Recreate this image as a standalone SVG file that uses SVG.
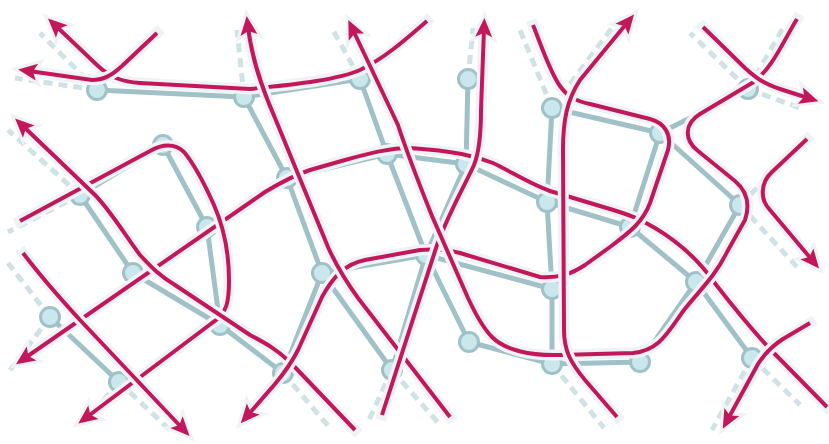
<svg xmlns="http://www.w3.org/2000/svg" width="829" height="444" viewBox="0 0 829 444">
<defs>
<style>
.e{stroke:#9fc1c7;stroke-width:5;fill:none;stroke-linecap:round}
.d{stroke:#cfe3e7;stroke-width:5;fill:none;stroke-dasharray:9 6}
.n circle{fill:#c9e7ec;stroke:#9fc1c7;stroke-width:3}
.h{stroke:#f0f3f5;stroke-width:11;fill:none;stroke-linejoin:round;stroke-linecap:square}
.m{stroke:#c2185b;stroke-width:4;fill:none;stroke-linejoin:round}
.h.a{marker-end:url(#ahh)}
.m.a{marker-end:url(#ah)}
</style>
<marker id="ah" viewBox="-16 -16 34 32" markerWidth="34" markerHeight="32" refX="0" refY="0" orient="auto" markerUnits="userSpaceOnUse" overflow="visible"><path d="M11,0 L-8,-8.5 L-4,0 L-8,8.5 Z" fill="#c2185b"/></marker>
<marker id="ahh" viewBox="-16 -16 34 32" markerWidth="34" markerHeight="32" refX="0" refY="0" orient="auto" markerUnits="userSpaceOnUse" overflow="visible"><path d="M11,0 L-8,-8.5 L-4,0 L-8,8.5 Z" fill="#f0f3f5" stroke="#f0f3f5" stroke-width="6" stroke-linejoin="miter"/></marker>
</defs>
<rect width="829" height="444" fill="#ffffff"/>
<g id="connectors">
<g id="boundary">
<path class="d" d="M97,90 L15,78"/>
<path class="d" d="M97,90 L40,33"/>
<path class="d" d="M97,90 L155,33"/>
<path class="d" d="M244,97 L237,30"/>
<path class="d" d="M360,79 L333,30"/>
<path class="d" d="M360,79 L425,22"/>
<path class="d" d="M468,79 L473,28"/>
<path class="d" d="M552,108 L520,30"/>
<path class="d" d="M552,108 L612,28"/>
<path class="d" d="M748,89 L690,33"/>
<path class="d" d="M748,89 L785,25"/>
<path class="d" d="M748,89 L800,108"/>
<path class="d" d="M740,205 L800,270"/>
<path class="d" d="M740,205 L805,140"/>
<path class="d" d="M80,195 L8,130"/>
<path class="d" d="M80,195 L8,232"/>
<path class="d" d="M50,317 L8,263"/>
<path class="d" d="M50,317 L10,370"/>
<path class="d" d="M119,382 L170,430"/>
<path class="d" d="M119,382 L80,428"/>
<path class="d" d="M283,373 L330,428"/>
<path class="d" d="M283,373 L240,425"/>
<path class="d" d="M392,370 L368,422"/>
<path class="d" d="M392,370 L440,425"/>
<path class="d" d="M552,364 L604,428"/>
<path class="d" d="M752,358 L712,430"/>
<path class="d" d="M752,358 L800,405"/>
<path class="d" d="M752,358 L810,322"/>
</g>
<g id="edges">
<path class="e" d="M97,90 L244,97"/>
<path class="e" d="M244,97 L360,79"/>
<path class="e" d="M244,97 L287,178"/>
<path class="e" d="M360,79 L387,154"/>
<path class="e" d="M468,79 L466,164"/>
<path class="e" d="M552,108 L547,202"/>
<path class="e" d="M552,108 L660,133"/>
<path class="e" d="M660,133 L748,89"/>
<path class="e" d="M660,133 L740,205"/>
<path class="e" d="M660,133 L630,227"/>
<path class="e" d="M163,145 L80,195"/>
<path class="e" d="M163,145 L207,227"/>
<path class="e" d="M80,195 L133,273"/>
<path class="e" d="M287,178 L387,154"/>
<path class="e" d="M287,178 L322,273"/>
<path class="e" d="M387,154 L466,164"/>
<path class="e" d="M387,154 L426,255"/>
<path class="e" d="M466,164 L547,202"/>
<path class="e" d="M466,164 L426,255"/>
<path class="e" d="M547,202 L630,227"/>
<path class="e" d="M547,202 L552,289"/>
<path class="e" d="M207,227 L220,325"/>
<path class="e" d="M133,273 L220,325"/>
<path class="e" d="M220,325 L283,373"/>
<path class="e" d="M322,273 L426,255"/>
<path class="e" d="M322,273 L283,373"/>
<path class="e" d="M322,273 L392,370"/>
<path class="e" d="M426,255 L392,370"/>
<path class="e" d="M426,255 L469,342"/>
<path class="e" d="M426,255 L552,289"/>
<path class="e" d="M552,289 L552,364"/>
<path class="e" d="M630,227 L696,282"/>
<path class="e" d="M740,205 L696,282"/>
<path class="e" d="M696,282 L752,358"/>
<path class="e" d="M696,282 L640,362"/>
<path class="e" d="M469,342 L552,364"/>
<path class="e" d="M552,364 L640,362"/>
<path class="e" d="M50,317 L119,382"/>
</g>
</g>
<g id="nodes" class="n">
<g id="n1"><circle cx="97" cy="90" r="9.5"/></g>
<g id="n2"><circle cx="244" cy="97" r="9.5"/></g>
<g id="n3"><circle cx="360" cy="79" r="9.5"/></g>
<g id="n4"><circle cx="468" cy="79" r="9.5"/></g>
<g id="n5"><circle cx="552" cy="108" r="9.5"/></g>
<g id="n6"><circle cx="660" cy="133" r="9.5"/></g>
<g id="n7"><circle cx="748" cy="89" r="9.5"/></g>
<g id="n8"><circle cx="163" cy="145" r="9.5"/></g>
<g id="n9"><circle cx="80" cy="195" r="9.5"/></g>
<g id="n10"><circle cx="287" cy="178" r="9.5"/></g>
<g id="n11"><circle cx="387" cy="154" r="9.5"/></g>
<g id="n12"><circle cx="466" cy="164" r="9.5"/></g>
<g id="n13"><circle cx="547" cy="202" r="9.5"/></g>
<g id="n14"><circle cx="207" cy="227" r="9.5"/></g>
<g id="n15"><circle cx="630" cy="227" r="9.5"/></g>
<g id="n16"><circle cx="740" cy="205" r="9.5"/></g>
<g id="n17"><circle cx="133" cy="273" r="9.5"/></g>
<g id="n18"><circle cx="322" cy="273" r="9.5"/></g>
<g id="n19"><circle cx="426" cy="255" r="9.5"/></g>
<g id="n20"><circle cx="552" cy="289" r="9.5"/></g>
<g id="n21"><circle cx="696" cy="282" r="9.5"/></g>
<g id="n22"><circle cx="50" cy="317" r="9.5"/></g>
<g id="n23"><circle cx="220" cy="325" r="9.5"/></g>
<g id="n24"><circle cx="469" cy="342" r="9.5"/></g>
<g id="n25"><circle cx="552" cy="364" r="9.5"/></g>
<g id="n26"><circle cx="640" cy="362" r="9.5"/></g>
<g id="n27"><circle cx="752" cy="358" r="9.5"/></g>
<g id="n28"><circle cx="119" cy="382" r="9.5"/></g>
<g id="n29"><circle cx="283" cy="373" r="9.5"/></g>
<g id="n30"><circle cx="392" cy="370" r="9.5"/></g>
</g>
<g id="strands">
<g id="s-m1"><path class="h a" d="M427,21 C405,40 385,58 360,70 C340,79 300,84 250,89 L140,83 C122,82 110,77 98,66 L56,26"/><path class="m a" d="M427,21 C405,40 385,58 360,70 C340,79 300,84 250,89 L140,83 C122,82 110,77 98,66 L56,26"/></g>
<g id="s-m2"><path class="h a" d="M157,33 L122,66 C112,75 104,80 92,80 L29,71"/><path class="m a" d="M157,33 L122,66 C112,75 104,80 92,80 L29,71"/></g>
<g id="s-d"><path class="h a" d="M827,407 L770,349 C745,322 728,300 714,282 C700,262 680,243 655,228 C640,219 630,215 610,209 L550,191 C530,184 510,171 493,163 C475,156 455,151 410,148 C390,148 370,153 345,160 L310,170 C295,175 280,183 265,192 L25,358"/><path class="m a" d="M827,407 L770,349 C745,322 728,300 714,282 C700,262 680,243 655,228 C640,219 630,215 610,209 L550,191 C530,184 510,171 493,163 C475,156 455,151 410,148 C390,148 370,153 345,160 L310,170 C295,175 280,183 265,192 L25,358"/></g>
<g id="s-e"><path class="h a" d="M20,221 L150,151 C162,144 175,143 184,152 C195,165 205,185 214,205 C224,228 229,250 229,280 C229,300 228,313 212,323 L87,417"/><path class="m a" d="M20,221 L150,151 C162,144 175,143 184,152 C195,165 205,185 214,205 C224,228 229,250 229,280 C229,300 228,313 212,323 L87,417"/></g>
<g id="s-f"><path class="h a" d="M355,430 L290,362 C275,348 265,343 250,335 L175,285 C160,276 152,268 140,255 C125,235 110,210 95,195 L23,126"/><path class="m a" d="M355,430 L290,362 C275,348 265,343 250,335 L175,285 C160,276 152,268 140,255 C125,235 110,210 95,195 L23,126"/></g>
<g id="s-g"><path class="h a" d="M23,253 C45,282 60,298 80,320 L182,428"/><path class="m a" d="M23,253 C45,282 60,298 80,320 L182,428"/></g>
<g id="s-i"><path class="h a" d="M533,25 C543,50 550,72 560,86 C567,96 575,101 590,104 L650,119 C665,123 672,135 668,150 L650,203 C643,222 630,232 610,247 L585,265 C570,275 558,278 540,277 L460,253 C445,249 430,249 420,250 L365,260 C345,264 333,277 322,297 L298,350 C292,362 285,372 275,384 L248,415"/><path class="m a" d="M533,25 C543,50 550,72 560,86 C567,96 575,101 590,104 L650,119 C665,123 672,135 668,150 L650,203 C643,222 630,232 610,247 L585,265 C570,275 558,278 540,277 L460,253 C445,249 430,249 420,250 L365,260 C345,264 333,277 322,297 L298,350 C292,362 285,372 275,384 L248,415"/></g>
<g id="s-a"><path class="h a" d="M450,417 L358,298 C345,280 336,265 328,247 L275,118 C262,88 252,60 248,27"/><path class="m a" d="M450,417 L358,298 C345,280 336,265 328,247 L275,118 C262,88 252,60 248,27"/></g>
<g id="s-k"><path class="h a" d="M382,415 L437,245 C450,210 465,185 474,165 C480,150 481,130 481,110 L484,29"/><path class="m a" d="M382,415 L437,245 C450,210 465,185 474,165 C480,150 481,130 481,110 L484,29"/></g>
<g id="s-b"><path class="h a" d="M797,19 C785,38 772,70 752,83 L700,114 C684,124 684,140 698,151 L735,181 C748,192 750,205 745,220 L727,252 C716,275 700,290 684,310 C668,332 660,350 633,353 L560,355 C530,356 505,350 492,337 C482,327 475,313 468,298 L432,216 C420,186 406,150 398,125 L353,30"/><path class="m a" d="M797,19 C785,38 772,70 752,83 L700,114 C684,124 684,140 698,151 L735,181 C748,192 750,205 745,220 L727,252 C716,275 700,290 684,310 C668,332 660,350 633,353 L560,355 C530,356 505,350 492,337 C482,327 475,313 468,298 L432,216 C420,186 406,150 398,125 L353,30"/></g>
<g id="s-j"><path class="h a" d="M617,417 L585,380 C570,362 564,350 564,330 L563,150 C563,120 567,100 580,80 L627,23"/><path class="m a" d="M617,417 L585,380 C570,362 564,350 564,330 L563,150 C563,120 567,100 580,80 L627,23"/></g>
<g id="s-l"><path class="h a" d="M703,27 L745,68 C757,79 765,84 780,89 L808,98"/><path class="m a" d="M703,27 L745,68 C757,79 765,84 780,89 L808,98"/></g>
<g id="s-mm"><path class="h a" d="M807,139 L772,172 C760,183 760,200 770,210 L812,260"/><path class="m a" d="M807,139 L772,172 C760,183 760,200 770,210 L812,260"/></g>
<g id="s-n"><path class="h a" d="M810,323 L783,339 C772,346 765,353 758,364 L728,419"/><path class="m a" d="M810,323 L783,339 C772,346 765,353 758,364 L728,419"/></g>
</g>
</svg>
